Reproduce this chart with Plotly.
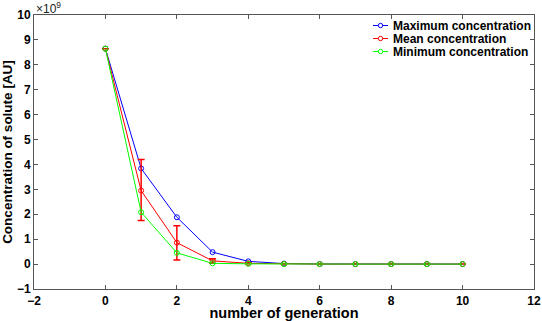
import plotly.graph_objects as go

generation = [0, 1, 2, 3, 4, 5, 6, 7, 8, 9, 10]
max_conc = [8.65, 3.84, 1.88, 0.48, 0.11, 0.02, 0.005, 0.0, 0.0, 0.0, 0.0]
mean_conc = [8.65, 2.95, 0.86, 0.13, 0.03, 0.005, 0.0, 0.0, 0.0, 0.0, 0.0]
min_conc = [8.65, 2.08, 0.45, 0.03, 0.01, 0.0, 0.0, 0.0, 0.0, 0.0, 0.0]
mean_err_plus = [0.0, 1.25, 0.68, 0.08, 0.02, 0.0, 0.0, 0.0, 0.0, 0.0, 0.0]
mean_err_minus = [0.0, 1.2, 0.7, 0.1, 0.02, 0.0, 0.0, 0.0, 0.0, 0.0, 0.0]
series_names = ["Maximum concentration", "Mean concentration", "Minimum concentration"]
series_colors = ["rgb(0,0,255)", "rgb(255,0,0)", "rgb(0,255,0)"]

FONT = "Liberation Sans"

fig = go.Figure()
for i, (vals, name, col) in enumerate(zip([max_conc, mean_conc, min_conc], series_names, series_colors)):
    kw = {}
    if i == 1:
        kw["error_y"] = dict(type="data", array=mean_err_plus, arrayminus=mean_err_minus,
                             color=col, thickness=1.5, width=3.5, visible=True)
    fig.add_trace(go.Scatter(
        x=generation, y=vals, name=name, mode="lines+markers",
        line=dict(color=col, width=1),
        marker=dict(symbol="circle-open", size=5, color=col, line=dict(width=1)),
        showlegend=False, **kw,
    ))

axis_common = dict(
    showline=True, linecolor="#555", linewidth=1, mirror="ticks",
    ticks="inside", ticklen=4, tickcolor="#555", tickwidth=1,
    showgrid=False, zeroline=False, automargin=False,
    tickfont=dict(family=FONT, size=12, color="black", weight="bold"),
)

# custom compact legend (MATLAB style) in paper coordinates
W, H = 542, 321
ml, mr, mt, mb = 34, 8, 15, 32
pw, ph = W - ml - mr, H - mt - mb
annotations = [dict(text="×10<sup>9</sup>", xref="paper", yref="paper",
                    x=0.0, y=1.0, xanchor="left", yanchor="bottom",
                    showarrow=False, font=dict(family=FONT, size=12, color="#222"),
                    yshift=-3)]
shapes = []
leg_x0 = (373 - ml) / pw
leg_x1 = (388 - ml) / pw
leg_xm = (380.5 - ml) / pw
for k, (name, col) in enumerate(zip(series_names, series_colors)):
    yy = 1 - (25.5 + 13 * k - mt) / ph
    shapes.append(dict(type="line", xref="paper", yref="paper", x0=leg_x0, x1=leg_x1,
                       y0=yy, y1=yy, line=dict(color=col, width=1)))
    r_x = 2.2 / pw
    r_y = 2.2 / ph
    shapes.append(dict(type="circle", xref="paper", yref="paper",
                       x0=leg_xm - r_x, x1=leg_xm + r_x, y0=yy - r_y, y1=yy + r_y,
                       line=dict(color=col, width=1), fillcolor="white"))
    annotations.append(dict(text="<b>" + name + "</b>", xref="paper", yref="paper",
                            x=(391 - ml) / pw, y=yy, xanchor="left", yanchor="middle",
                            showarrow=False, font=dict(family=FONT, size=12, color="black")))

fig.update_layout(
    width=W, height=H,
    margin=dict(l=ml, r=mr, t=mt, b=mb),
    paper_bgcolor="white", plot_bgcolor="white",
    font=dict(family=FONT, color="black"),
    xaxis=dict(range=[-2, 12], tickvals=[-2, 0, 2, 4, 6, 8, 10, 12], ticklabelstandoff=1,
               title=dict(text="<b>number of generation</b>", font=dict(size=14.5)),
               **axis_common),
    yaxis=dict(range=[-1, 10], tickvals=list(range(-1, 11)),
               title=dict(text="<b>Concentration of solute [AU]</b>", font=dict(size=13.5)),
               **axis_common),
    showlegend=False,
    annotations=annotations,
    shapes=shapes,
)

fig.write_html("out.html")
